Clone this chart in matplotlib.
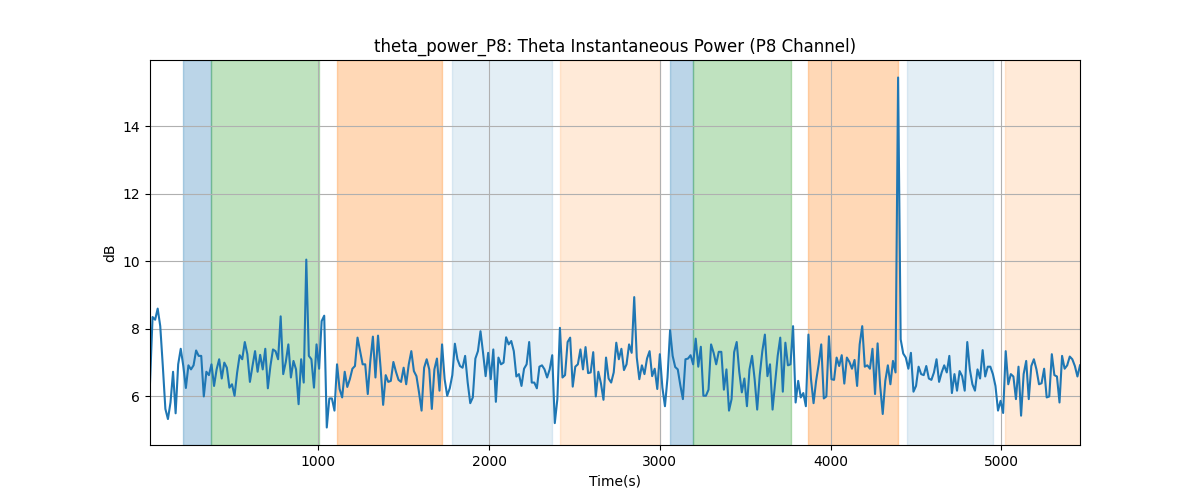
import matplotlib
matplotlib.use("Agg")
import matplotlib.pyplot as plt
import numpy as np

step = 15
power_db = [
    6.40, 8.35, 8.27, 8.60, 8.08, 6.90, 5.63, 5.33, 5.82, 6.73,
    5.50, 6.95, 7.41, 6.90, 6.25, 6.92, 6.80, 6.92, 7.36, 7.20,
    7.20, 6.00, 6.73, 6.63, 6.95, 6.31, 6.80, 7.10, 6.53, 7.00,
    6.85, 6.26, 6.36, 6.02, 6.70, 7.22, 7.10, 7.61, 7.25, 6.43,
    6.90, 7.34, 6.73, 7.23, 6.80, 7.41, 6.24, 6.90, 7.39, 7.34,
    7.10, 8.37, 6.66, 7.02, 7.54, 6.56, 7.05, 6.80, 5.77, 7.10,
    6.41, 10.05, 7.20, 7.10, 6.26, 7.54, 6.82, 8.23, 8.39, 5.08,
    5.94, 5.94, 5.58, 6.95, 6.22, 5.97, 6.73, 6.28, 6.51, 6.82,
    6.90, 7.74, 7.34, 6.95, 6.95, 6.07, 7.05, 7.77, 6.56, 7.80,
    6.85, 5.75, 6.63, 6.43, 6.46, 7.02, 6.73, 6.49, 6.43, 6.85,
    6.36, 6.95, 7.34, 6.75, 6.60, 6.12, 5.58, 6.85, 7.10, 6.80,
    5.63, 6.80, 7.12, 6.17, 7.54, 6.51, 6.02, 6.24, 6.63, 7.56,
    7.10, 6.90, 6.85, 7.20, 6.41, 5.80, 5.97, 7.12, 7.34, 7.93,
    7.29, 6.60, 7.29, 6.51, 7.39, 5.84, 7.15, 6.95, 7.00, 7.75,
    7.54, 7.64, 7.34, 6.59, 6.66, 6.31, 6.82, 6.95, 7.61, 6.41,
    6.41, 6.24, 6.88, 6.92, 6.80, 6.56, 6.80, 7.22, 5.21, 5.92,
    8.03, 6.56, 6.63, 7.61, 7.74, 6.29, 6.88, 6.95, 7.39, 6.80,
    7.46, 6.69, 6.71, 7.31, 6.00, 6.73, 6.39, 5.90, 7.15, 6.53,
    6.41, 6.71, 7.59, 7.10, 7.41, 6.78, 6.95, 7.54, 7.29, 8.94,
    7.15, 6.51, 6.92, 6.66, 7.12, 7.34, 6.60, 6.82, 6.22, 7.25,
    6.26, 5.71, 6.56, 7.96, 7.20, 6.87, 6.80, 6.33, 5.92, 7.10,
    7.12, 7.22, 6.95, 7.71, 6.88, 7.47, 6.02, 6.02, 6.20, 7.54,
    7.29, 6.95, 7.32, 7.32, 6.20, 6.80, 5.58, 5.92, 7.31, 7.61,
    6.73, 6.12, 6.53, 5.71, 6.80, 7.20, 6.51, 5.61, 6.63, 7.34,
    7.83, 6.60, 6.95, 5.61, 6.41, 7.20, 7.74, 6.14, 7.59, 6.92,
    6.95, 8.08, 5.82, 6.46, 5.97, 6.10, 5.71, 7.83, 6.51, 5.80,
    6.46, 6.95, 7.54, 5.94, 6.00, 7.78, 6.51, 6.49, 7.15, 6.90,
    7.22, 6.38, 7.15, 7.02, 6.82, 7.08, 6.31, 7.54, 8.08, 6.88,
    6.92, 6.82, 7.41, 6.07, 7.57, 6.31, 5.48, 6.46, 6.92, 6.36,
    7.05, 6.71, 15.44, 7.69, 7.27, 7.15, 6.82, 7.29, 6.14, 6.31,
    6.88, 6.66, 6.63, 6.90, 6.53, 6.49, 6.71, 7.10, 6.43, 6.71,
    6.92, 6.71, 7.20, 6.10, 6.66, 6.17, 6.75, 6.60, 6.17, 7.61,
    6.80, 6.36, 6.17, 6.80, 6.53, 7.37, 6.59, 6.88, 6.88, 6.66,
    6.31, 5.58, 5.87, 5.51, 7.34, 6.36, 6.66, 6.59, 5.92, 6.88,
    5.43, 6.66, 7.05, 5.92, 6.90, 7.10, 6.80, 6.36, 6.39, 6.82,
    5.97, 6.00, 7.25, 6.63, 6.59, 5.82, 7.20, 6.82, 6.92, 7.18,
    7.10, 6.90, 6.59, 6.92,
]
time_s = [step * (i + 1) for i in range(len(power_db))]

span_starts = [209, 374, 1111, 1785, 2413, 3058, 3195, 3866, 4445, 5018]
span_ends = [374, 1004, 1725, 2371, 2999, 3195, 3770, 4396, 4953, 5470]
span_colors = ["tab:blue", "tab:green", "tab:orange", "tab:blue", "tab:orange",
               "tab:blue", "tab:green", "tab:orange", "tab:blue", "tab:orange"]
span_alphas = [0.3, 0.3, 0.3, 0.12, 0.16, 0.3, 0.3, 0.3, 0.12, 0.16]

fig, ax = plt.subplots(figsize=(12, 5), dpi=100)
for s, e, c, a in zip(span_starts, span_ends, span_colors, span_alphas):
    ax.axvspan(s, e, color=c, alpha=a)
ax.plot(time_s, power_db, color="tab:blue", linewidth=1.5)
ax.set_xlim(time_s[0], time_s[-1])
ax.grid(True)
ax.set_title("theta_power_P8: Theta Instantaneous Power (P8 Channel)")
ax.set_xlabel("Time(s)")
ax.set_ylabel("dB")
fig.savefig("out.png", dpi=100)
